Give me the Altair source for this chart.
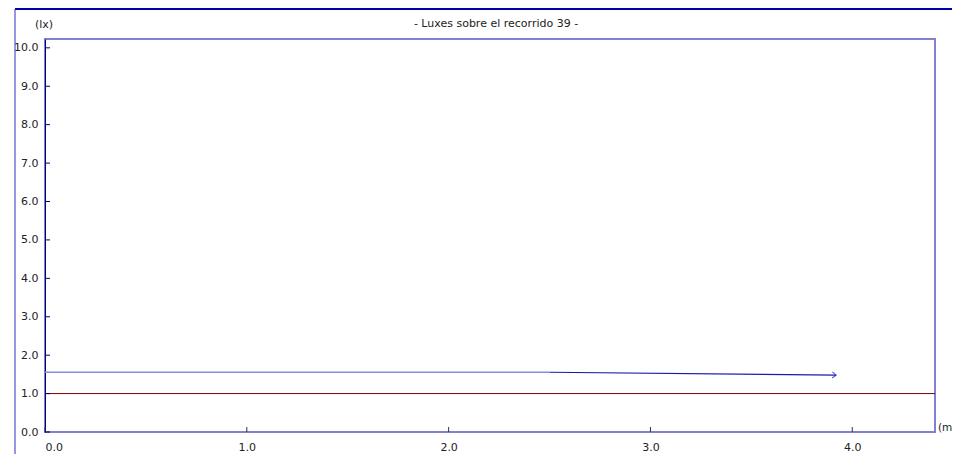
import altair as alt
import pandas as pd

# ---- data ----
path_x = [0.0, 2.5, 3.92]
path_y = [1.555, 1.555, 1.48]
ref_level = 1.0
x_ticks = [0.0, 1.0, 2.0, 3.0, 4.0]
y_ticks = [0.0, 1.0, 2.0, 3.0, 4.0, 5.0, 6.0, 7.0, 8.0, 9.0, 10.0]
x_max = 4.41
y_max = 10.23
title_text = "- Luxes sobre el recorrido 39 -"
y_unit = "(lx)"
x_unit = "(m"

W, H = 890, 393
FONT = "DejaVu Sans"
TXT = "#222222"

xs = alt.Scale(domain=[0, x_max], nice=False, zero=False)
ys = alt.Scale(domain=[0, y_max], nice=False, zero=False)

XA = alt.Axis(values=x_ticks, format=".1f", ticks=False, domain=False, grid=False,
              labelFont=FONT, labelFontSize=11, labelColor=TXT, labelPadding=9,
              labelOverlap=False, labelBound=False, title=None)
YA = alt.Axis(values=y_ticks, format=".1f", ticks=False, domain=True, domainColor="#00007f",
              domainWidth=1, grid=False, labelFont=FONT, labelFontSize=11, labelColor=TXT,
              labelPadding=7, labelOverlap=False, labelBound=False, title=None)


def X(f="x:Q"):
    return alt.X(f, scale=xs, axis=XA)


def Y(f="y:Q"):
    return alt.Y(f, scale=ys, axis=YA)


seg1 = pd.DataFrame({"x": path_x[:2], "y": path_y[:2]})
seg2 = pd.DataFrame({"x": path_x[1:], "y": path_y[1:]})
end = pd.DataFrame({"x": [path_x[-1]], "y": [path_y[-1]]})

line1 = alt.Chart(seg1).mark_line(color="#8a8ae0", strokeWidth=1.5).encode(x=X(), y=Y())
line2 = alt.Chart(seg2).mark_line(color="#1a1ab0", strokeWidth=1.2).encode(x=X(), y=Y())
arrow = alt.Chart(end).mark_point(
    shape="M-1,-0.8L0,0L-1,0.8", filled=False, color="#2020c0", strokeWidth=1.2, size=60, angle=3
).encode(x=X(), y=Y())

ref = alt.Chart(pd.DataFrame({"y": [ref_level]})).mark_rule(color="#7a0000", strokeWidth=1).encode(
    y=Y(), x=alt.value(0), x2=alt.value(W))

yt = alt.Chart(pd.DataFrame({"y": y_ticks})).mark_rule(color="#00007f", strokeWidth=1).encode(
    y=Y(), x=alt.value(0), x2=alt.value(5))
xt = alt.Chart(pd.DataFrame({"x": x_ticks})).mark_rule(color="#333333", strokeWidth=1).encode(
    x=X(), y=alt.value(H), y2=alt.value(H - 5))

dummy = pd.DataFrame({"t": [title_text]})
frame_top = alt.Chart(dummy).mark_rule(color="#0000a8", strokeWidth=2).encode(
    x=alt.value(-30), x2=alt.value(W + 40), y=alt.value(-30))
frame_left = alt.Chart(dummy).mark_rule(color="#3030c0", strokeWidth=1).encode(
    x=alt.value(-30), y=alt.value(-30), y2=alt.value(H + 40))

title = alt.Chart(dummy).mark_text(font=FONT, fontSize=11, color=TXT, align="center", baseline="middle").encode(
    text="t:N", x=alt.value(451), y=alt.value(-15))
lx = alt.Chart(pd.DataFrame({"t": [y_unit]})).mark_text(font=FONT, fontSize=11, color=TXT, align="center",
                                                        baseline="middle").encode(
    text="t:N", x=alt.value(-1), y=alt.value(-14))
mx = alt.Chart(pd.DataFrame({"t": [x_unit]})).mark_text(font=FONT, fontSize=10.5, color=TXT, align="left",
                                                        baseline="middle").encode(
    text="t:N", x=alt.value(W + 3), y=alt.value(H - 4))

chart = alt.layer(line1, frame_top, frame_left, ref, line2, arrow, yt, xt, title, lx, mx).properties(
    width=W, height=H,
    autosize=alt.AutoSizeParams(type="none"),
    padding={"left": 37, "top": 31, "right": 17, "bottom": 22},
    background="white",
).configure_view(stroke="#8080d4", strokeWidth=2).configure_axis(labelOverlap=False)

chart.save("out.html", embed_options={"renderer": "svg", "actions": False})
